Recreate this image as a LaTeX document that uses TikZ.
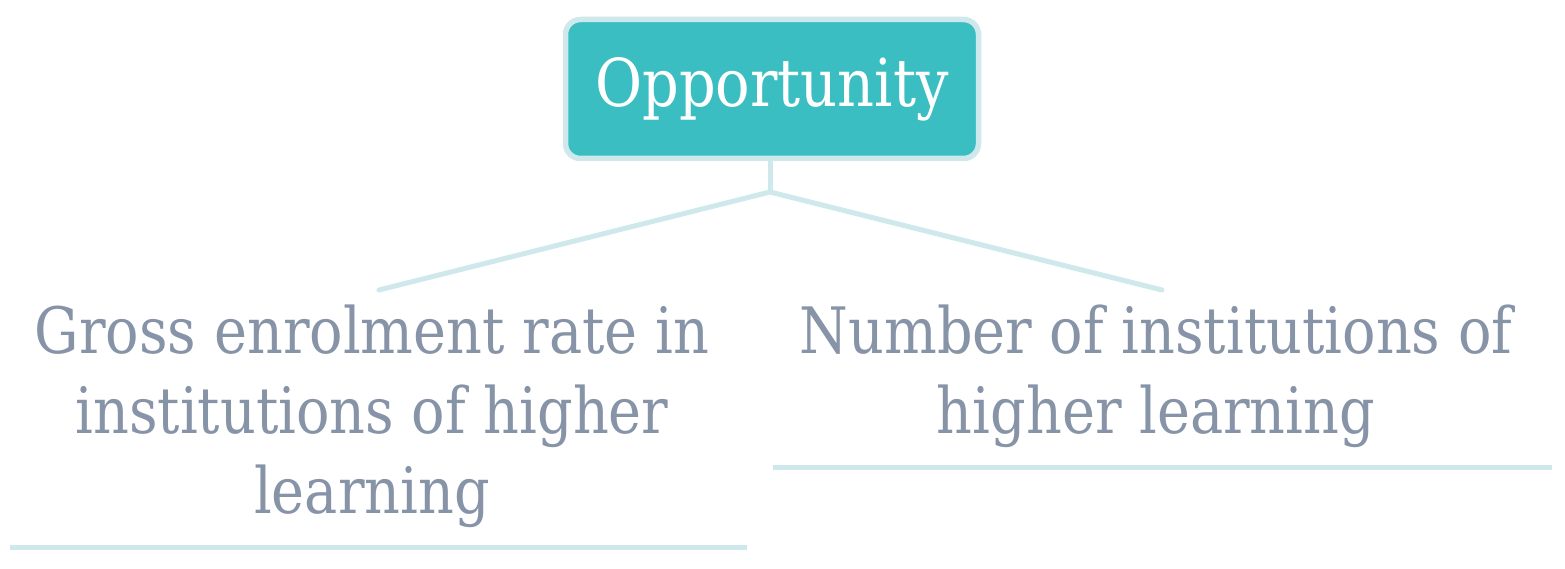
\documentclass[tikz,border=0pt]{standalone}
\usepackage{fontspec}
\setmainfont{DejaVu Serif}[FakeStretch=0.87]
\definecolor{boxfill}{HTML}{3ABEC2}
\definecolor{boxedge}{HTML}{CFE8EB}
\definecolor{linecol}{HTML}{CFE8EB}
\definecolor{txtcol}{HTML}{8794A8}
\tikzset{
  topbox/.style={draw=boxedge, line width=5.5pt, fill=boxfill, rounded corners=15pt,
    minimum width=413pt, minimum height=139pt, inner sep=0pt, text=white,
    font=\fontsize{66}{72}\selectfont},
  leaf/.style={align=center, inner sep=0pt, anchor=north, text=txtcol,
    font=\fontsize{64}{80}\selectfont},
  conn/.style={draw=linecol, line width=5pt, line cap=round},
  underline/.style={draw=linecol, line width=5pt}
}
\begin{document}
\begin{tikzpicture}[x=1pt,y=-1pt]
\useasboundingbox (0,0) rectangle (1565,569);
\node[topbox] (root) at (772,89) {Opportunity};
\coordinate (junction) at (770,192);
\coordinate (lend) at (379,290);
\coordinate (rend) at (1162,290);
\node[leaf] (left) at (372,305) {Gross enrolment rate in\\institutions of higher\\learning};
\node[leaf] (right) at (1156,305) {Number of institutions of\\higher learning};
\draw[conn] (root.south -| junction) -- (junction);
\draw[conn] (lend) -- (junction) -- (rend);
\draw[underline] (10,547) -- (747,547);
\draw[underline] (773,467) -- (1552,467);
\end{tikzpicture}
\end{document}
